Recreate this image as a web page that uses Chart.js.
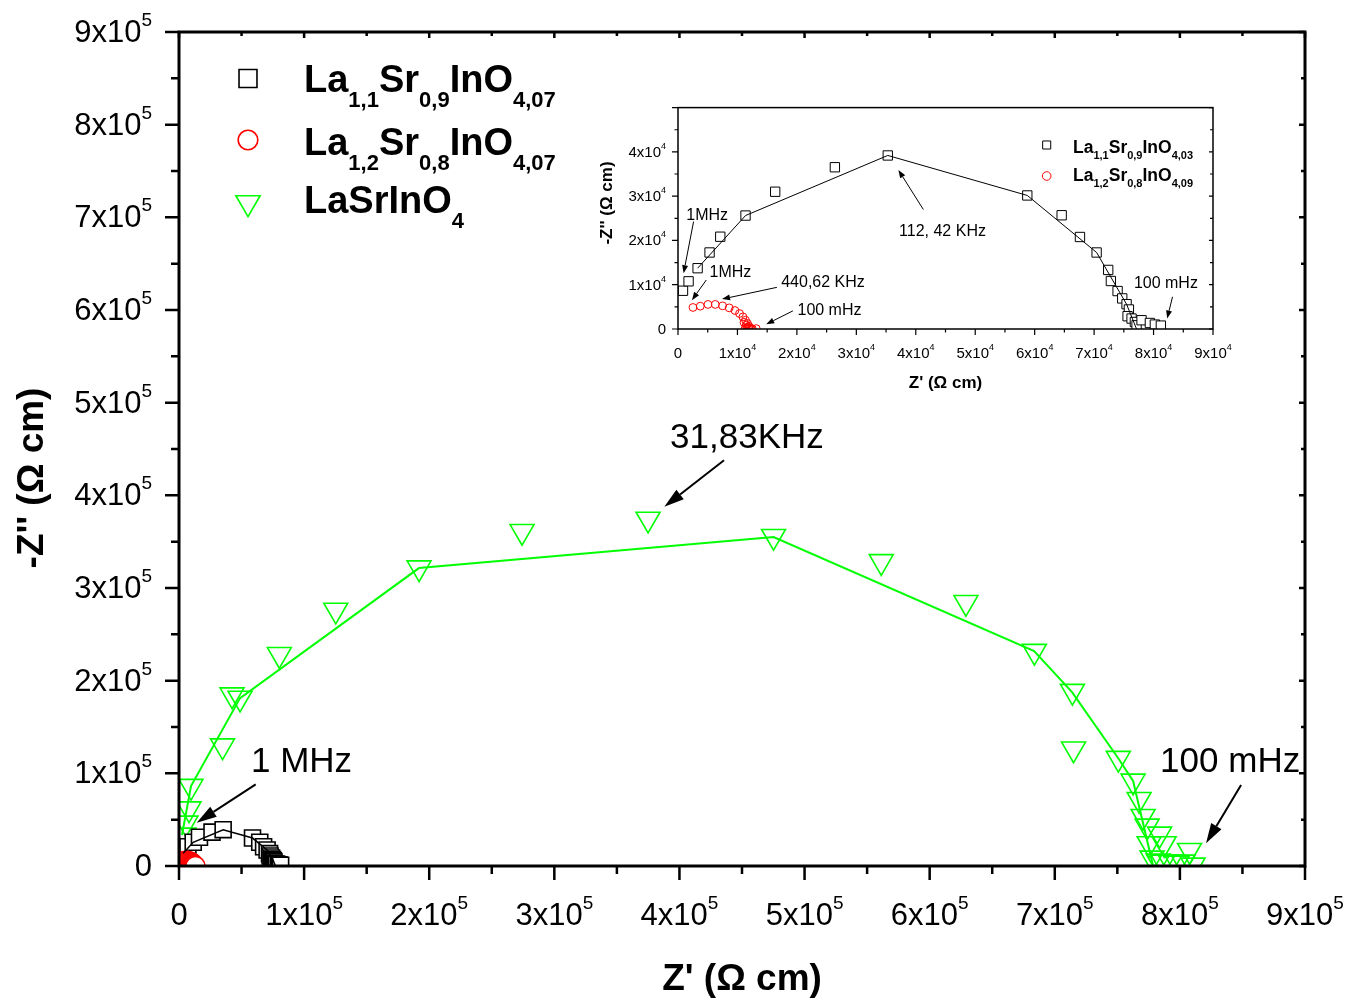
<!DOCTYPE html>
<html>
<head>
<meta charset="utf-8">
<script src="https://cdn.jsdelivr.net/npm/chart.js@4.4.0/dist/chart.umd.min.js"></script>
<style>
  body { margin: 0; background: #fff; }
  #wrap { position: relative; width: 1346px; height: 1000px; }
  #main { position: absolute; left: 0; top: 0; }
  #inset { position: absolute; left: 590px; top: 100px; }
</style>
</head>
<body>
<div id="wrap">
  <canvas id="main" width="1346" height="1000"></canvas>
  <canvas id="inset" width="650" height="300"></canvas>
</div>
<script>
// La1,1Sr0,9InO4 (squares) - Z' and -Z'' in ohm cm
const la11Re = [840, 1780, 3300, 5310, 7110, 11360, 16350, 26390, 35290, 58760, 64540, 67620, 70420, 72370, 72820, 73950, 74730, 75460, 75850, 75630, 76300, 76860, 77140, 77980, 79380, 80220, 81230];
const la11Im = [8640, 10770, 13730, 17280, 20840, 25620, 31000, 36530, 39190, 30160, 25690, 20780, 17280, 13340, 10840, 8570, 6910, 5610, 4410, 2890, 2360, 1590, 840, 1980, 1360, 1000, 770];
// line through the squares
const la11LineRe = [3300, 11360, 35290, 58760, 70420, 75460, 77140];
const la11LineIm = [13730, 25620, 39190, 30160, 17280, 5600, 0];

// La1,2Sr0,8InO4 (circles)
const la12Re = [2520, 3750, 5040, 6270, 7500, 8620, 9580, 10350, 10920, 11360, 11700, 11930, 11100, 11480, 11820, 11600, 12150, 11310, 11900, 12300, 12490, 13160];
const la12Im = [4860, 5160, 5550, 5550, 5230, 4770, 4180, 3500, 2730, 1980, 1230, 610, 1500, 840, 390, 300, 160, 160, 200, 100, 50, 90];

// LaSrInO4 (triangles)
const lsoRe = [4000, 5600, 8000, 9600, 34800, 48800, 42400, 80200, 125300, 191900, 274200, 374900, 475200, 561300, 629000, 683700, 714100, 715000, 750800, 762600, 767400, 770600, 773800, 775400, 783800, 787400, 807700, 810500, 777800, 782600, 786600, 792200, 797800, 802600];
const lsoIm = [33400, 46400, 61800, 86000, 129700, 181200, 184800, 228300, 276100, 321800, 361000, 374300, 355700, 328600, 284400, 231700, 188500, 126300, 116200, 91700, 71900, 53600, 43100, 24100, 34500, 24100, 16900, 1100, 8600, 5400, 4300, 4300, 3200, 4300];
const lsoLineRe = [2400, 9600, 48800, 191800, 475200, 683500, 713800, 750600, 762600, 778600];
const lsoLineIm = [33400, 86300, 181200, 321500, 354900, 231900, 187700, 116500, 91700, 0];

// ticks
const mainTicks = [0, 100000, 200000, 300000, 400000, 500000, 600000, 700000, 800000, 900000];
const mainTickLabels = ['0', '1x10^{5}', '2x10^{5}', '3x10^{5}', '4x10^{5}', '5x10^{5}', '6x10^{5}', '7x10^{5}', '8x10^{5}', '9x10^{5}'];
const insetXTicks = [0, 10000, 20000, 30000, 40000, 50000, 60000, 70000, 80000, 90000];
const insetXTickLabels = ['0', '1x10^{4}', '2x10^{4}', '3x10^{4}', '4x10^{4}', '5x10^{4}', '6x10^{4}', '7x10^{4}', '8x10^{4}', '9x10^{4}'];
const insetYTicks = [0, 10000, 20000, 30000, 40000, 50000];
const insetYTickLabels = ['0', '1x10^{4}', '2x10^{4}', '3x10^{4}', '4x10^{4}', ''];

const mainLegend = ['La_{1,1}Sr_{0,9}InO_{4,07}', 'La_{1,2}Sr_{0,8}InO_{4,07}', 'LaSrInO_{4}'];
const insetLegend = ['La_{1,1}Sr_{0,9}InO_{4,03}', 'La_{1,2}Sr_{0,8}InO_{4,09}'];

// frequency notes: text corner and arrow tail/tip, in data units
const mainNotes = [
  { text: '1 MHz', at: [57550, 101700], from: [61300, 88100], to: [14150, 46700] },
  { text: '31,83KHz', at: [392500, 450900], from: [435650, 437950], to: [387900, 387600] },
  { text: '100 mHz', at: [784200, 101700], from: [848900, 87400], to: [820900, 24500] }
];
const insetNotes = [
  { text: '1MHz', at: [1395, 24710], from: [2620, 24250], to: [940, 12590] },
  { text: '1MHz', at: [5310, 11820], from: [4760, 11070], to: [2350, 6520] },
  { text: '440,62 KHz', at: [17360, 9410], from: [16640, 9410], to: [7400, 6750] },
  { text: '100 mHz', at: [20100, 3110], from: [19330, 4090], to: [14840, 1070] },
  { text: '112, 42 KHz', at: [37190, 20960], from: [41280, 26980], to: [37080, 35910] },
  { text: '100 mHz', at: [76690, 9180], from: [83190, 7270], to: [82290, 2360] }
];

const FONT = '"Liberation Sans", Arial, sans-serif';

function pts(xs, ys) {
  return xs.map((v, i) => ({ x: v, y: ys[i] }));
}

function mids(arr) {
  const out = [];
  for (let i = 0; i < arr.length - 1; i++) out.push((arr[i] + arr[i + 1]) / 2);
  return out;
}

// text with _{sub} and ^{sup}
function drawRich(ctx, str, x, y, st, align) {
  const parts = [];
  const re = /([_^])\{([^}]*)\}|([^_^]+)/g;
  let m;
  while ((m = re.exec(str)) !== null) {
    if (m[3] !== undefined) parts.push({ t: m[3], k: '' });
    else parts.push({ t: m[2], k: m[1] });
  }
  let w = 0;
  parts.forEach(p => {
    p.font = (st.bold ? 'bold ' : '') + (p.k ? st.small : st.size) + 'px ' + FONT;
    ctx.font = p.font;
    p.w = ctx.measureText(p.t).width;
    w += p.w;
  });
  let cx = align === 'right' ? x - w : align === 'center' ? x - w / 2 : x;
  ctx.textAlign = 'left';
  ctx.textBaseline = 'alphabetic';
  parts.forEach(p => {
    ctx.font = p.font;
    const dy = p.k === '_' ? st.subDy : p.k === '^' ? -st.supDy : 0;
    ctx.fillText(p.t, cx, y + dy);
    cx += p.w;
  });
}

function drawArrow(ctx, x1, y1, x2, y2, head, half, lw) {
  const ang = Math.atan2(y2 - y1, x2 - x1);
  const bx = x2 - Math.cos(ang) * head, by = y2 - Math.sin(ang) * head;
  ctx.lineWidth = lw;
  ctx.beginPath();
  ctx.moveTo(x1, y1);
  ctx.lineTo(bx, by);
  ctx.stroke();
  ctx.beginPath();
  ctx.moveTo(x2, y2);
  ctx.lineTo(bx - Math.sin(ang) * half, by + Math.cos(ang) * half);
  ctx.lineTo(bx + Math.sin(ang) * half, by - Math.cos(ang) * half);
  ctx.closePath();
  ctx.fill();
}

// axes box, ticks, labels, titles, legend and notes
function decor(c) {
  return {
    id: 'decor',
    afterDatasetsDraw(chart) {
      const { ctx, chartArea: a, scales: { x, y } } = chart;
      ctx.save();
      ctx.strokeStyle = '#000';
      ctx.fillStyle = '#000';
      ctx.lineWidth = c.axisWidth;
      ctx.strokeRect(a.left, a.top, a.right - a.left, a.bottom - a.top);

      ctx.lineWidth = c.tickWidth;
      ctx.beginPath();
      const xt = (v, len, inLen) => {
        const px = x.getPixelForValue(v);
        ctx.moveTo(px, a.bottom); ctx.lineTo(px, a.bottom + len);
        if (c.topTicks) { ctx.moveTo(px, a.top); ctx.lineTo(px, a.top + inLen); }
      };
      const yt = (v, len, inLen) => {
        const py = y.getPixelForValue(v);
        ctx.moveTo(a.left - len, py); ctx.lineTo(a.left, py);
        if (c.rightTicks) { ctx.moveTo(a.right - inLen, py); ctx.lineTo(a.right, py); }
      };
      c.xTicks.forEach(v => xt(v, c.major, c.inMajor));
      mids(c.xTicks).forEach(v => xt(v, c.minor, c.inMinor));
      c.yTicks.forEach(v => yt(v, c.major, c.inMajor));
      mids(c.yTicks).forEach(v => yt(v, c.minor, c.inMinor));
      ctx.stroke();

      c.xTicks.forEach((v, i) => drawRich(ctx, c.xLabels[i], x.getPixelForValue(v), a.bottom + c.xLabelDy, c.tickFont, 'center'));
      c.yTicks.forEach((v, i) => drawRich(ctx, c.yLabels[i], a.left - c.yLabelDx, y.getPixelForValue(v) + c.yLabelDy, c.tickFont, 'right'));

      // axis titles
      ctx.font = 'bold ' + c.titleSize + 'px ' + FONT;
      ctx.textAlign = 'center';
      ctx.textBaseline = 'alphabetic';
      ctx.fillText(c.xTitle, (a.left + a.right) / 2, a.bottom + c.xTitleDy);
      ctx.save();
      ctx.translate(c.yTitlePos[0], c.yTitlePos[1]);
      ctx.rotate(-Math.PI / 2);
      ctx.textBaseline = 'middle';
      ctx.fillText(c.yTitle, 0, 0);
      ctx.restore();

      // legend
      const sets = chart.data.datasets.filter(d => d.legendIndex !== undefined);
      sets.forEach(d => {
        const i = d.legendIndex;
        ctx.strokeStyle = d.pointBorderColor;
        ctx.fillStyle = 'rgba(0,0,0,0)';
        ctx.lineWidth = d.pointBorderWidth;
        Chart.helpers.drawPoint(ctx, {
          pointStyle: d.pointStyle, rotation: d.pointRotation || 0,
          radius: c.legendRadius[d.pointStyle], borderWidth: d.pointBorderWidth
        }, c.legendX, c.legendMarkY[i]);
        ctx.fillStyle = '#000';
        drawRich(ctx, c.legend[i], c.legendTextX, c.legendTextY[i], c.legendFont, 'left');
      });

      // notes with arrows
      ctx.strokeStyle = '#000';
      ctx.fillStyle = '#000';
      c.notes.forEach(n => {
        ctx.font = c.noteSize + 'px ' + FONT;
        ctx.textAlign = 'left';
        ctx.textBaseline = 'alphabetic';
        ctx.fillText(n.text, x.getPixelForValue(n.at[0]), y.getPixelForValue(n.at[1]));
        drawArrow(ctx, x.getPixelForValue(n.from[0]), y.getPixelForValue(n.from[1]),
          x.getPixelForValue(n.to[0]), y.getPixelForValue(n.to[1]), c.arrowHead, c.arrowHalf, c.arrowWidth);
      });
      ctx.restore();
    }
  };
}

// dataset 0 is drawn on top
function makeDatasets(sq, ci, tri, lw) {
  const ds = [
    { data: pts(la11LineRe, la11LineIm), showLine: true, borderColor: '#000', borderWidth: lw.black, pointRadius: 0, clip: 0 },
    { data: pts(la12Re, la12Im), borderColor: '#ff0000', pointStyle: 'circle', pointRadius: ci, pointBorderColor: '#ff0000',
      pointBackgroundColor: lw.circleFill, pointBorderWidth: lw.mark, clip: 0, legendIndex: 1 },
    { data: pts(la11Re, la11Im), borderColor: '#000', pointStyle: 'rect', pointRadius: sq, pointBorderColor: '#000',
      pointBackgroundColor: '#fff', pointBorderWidth: lw.mark, clip: 0, legendIndex: 0 }
  ];
  if (tri) {
    ds.unshift({ data: pts(lsoLineRe, lsoLineIm), showLine: true, borderColor: '#00ff00', borderWidth: lw.green, pointRadius: 0, clip: 0 });
    ds.push({ data: pts(lsoRe, lsoIm), borderColor: '#00ff00', pointStyle: 'triangle', pointRotation: 180, pointRadius: tri,
      pointBorderColor: '#00ff00', pointBackgroundColor: 'rgba(0,0,0,0)', pointBorderWidth: lw.mark, clip: 0, legendIndex: 2 });
  }
  return ds;
}

function baseOptions(pad, xMax, yMax) {
  return {
    responsive: false,
    animation: false,
    events: [],
    layout: { padding: pad },
    scales: {
      x: { type: 'linear', min: 0, max: xMax, display: false },
      y: { type: 'linear', min: 0, max: yMax, display: false }
    },
    plugins: { legend: { display: false }, tooltip: { enabled: false } }
  };
}

new Chart(document.getElementById('main'), {
  type: 'scatter',
  data: { datasets: makeDatasets(11.3, 9.5, 13.8, { black: 1.5, green: 2, mark: 1.6, circleFill: '#fff' }) },
  options: baseOptions({ left: 179, right: 41, top: 32, bottom: 134 }, 900000, 900000),
  plugins: [decor({
    axisWidth: 3, tickWidth: 2.5, major: 14, minor: 8, inMajor: 6, inMinor: 4, topTicks: true, rightTicks: true,
    xTicks: mainTicks, xLabels: mainTickLabels, yTicks: mainTicks, yLabels: mainTickLabels,
    xLabelDy: 59, yLabelDx: 27, yLabelDy: 10,
    tickFont: { size: 31, small: 19, supDy: 16, bold: false },
    xTitle: "Z' (\u03A9 cm)", yTitle: "-Z'' (\u03A9 cm)", titleSize: 37, xTitleDy: 124, yTitlePos: [33, 478],
    legend: mainLegend, legendX: 248, legendMarkY: [78.5, 140, 202.7], legendTextX: 304, legendTextY: [92, 155, 213],
    legendRadius: { rect: 12.7, circle: 9.8, triangle: 14 },
    legendFont: { size: 38, small: 22, subDy: 15, bold: true },
    notes: mainNotes, noteSize: 35, arrowHead: 20, arrowHalf: 6, arrowWidth: 2
  })]
});

new Chart(document.getElementById('inset'), {
  type: 'scatter',
  data: { datasets: makeDatasets(6.6, 3.9, 0, { black: 1, mark: 1, circleFill: 'rgba(255,255,255,0)' }) },
  options: baseOptions({ left: 88, right: 27, top: 7, bottom: 71 }, 90000, 50000),
  plugins: [decor({
    axisWidth: 1.5, tickWidth: 1.2, major: 6, minor: 3.5, inMajor: 4, inMinor: 3, topTicks: false, rightTicks: true,
    xTicks: insetXTicks, xLabels: insetXTickLabels, yTicks: insetYTicks, yLabels: insetYTickLabels,
    xLabelDy: 29, yLabelDx: 12, yLabelDy: 5,
    tickFont: { size: 15, small: 9, supDy: 8, bold: false },
    xTitle: "Z' (\u03A9 cm)", yTitle: "-Z'' (\u03A9 cm)", titleSize: 17, xTitleDy: 59, yTitlePos: [17, 103],
    legend: insetLegend, legendX: 456.7, legendMarkY: [45, 76], legendTextX: 483, legendTextY: [53, 81],
    legendRadius: { rect: 5.7, circle: 4.3 },
    legendFont: { size: 17.5, small: 11, subDy: 6, bold: true },
    notes: insetNotes, noteSize: 16, arrowHead: 8, arrowHalf: 3, arrowWidth: 1
  })]
});
</script>
</body>
</html>
